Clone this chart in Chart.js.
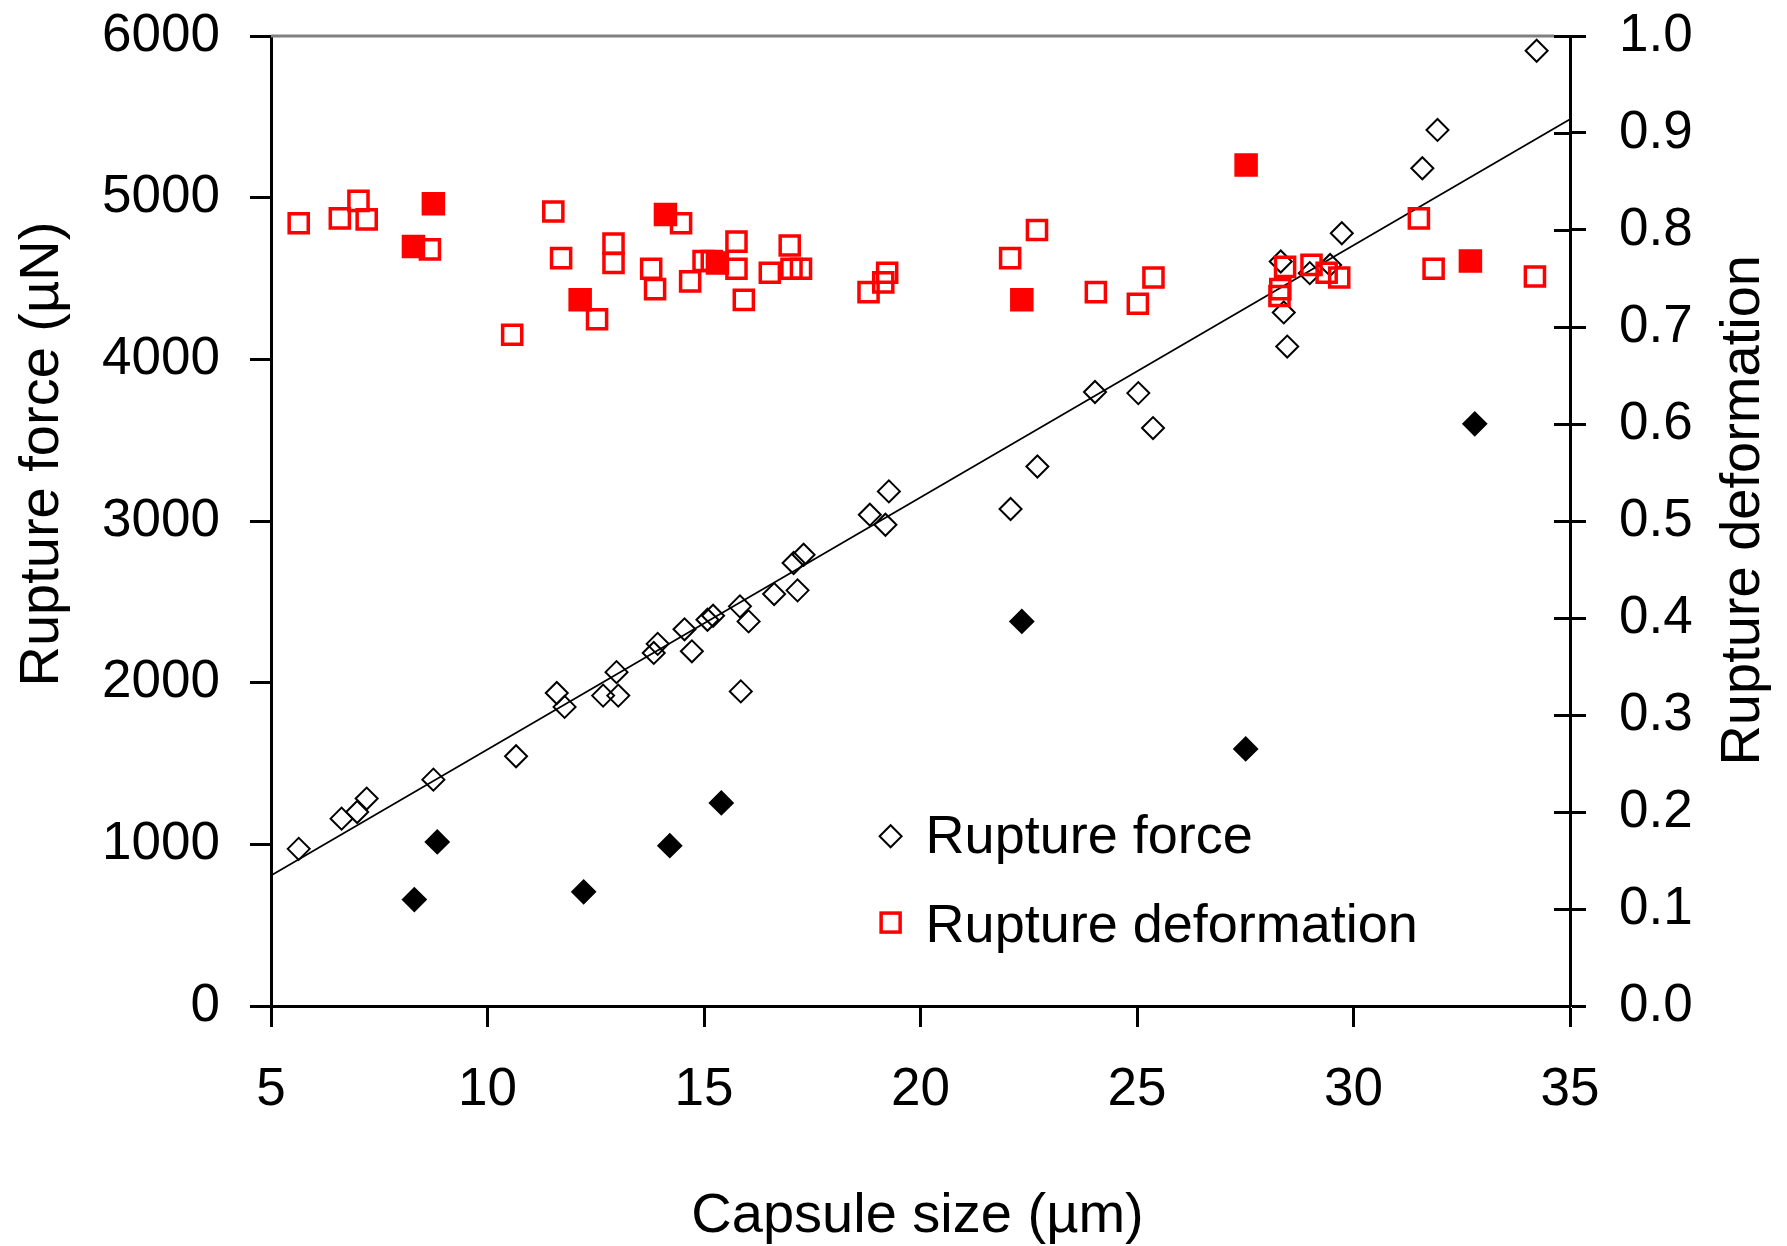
<!DOCTYPE html>
<html>
<head>
<meta charset="utf-8">
<title>Capsule rupture</title>
<script src="https://cdn.jsdelivr.net/npm/chart.js@4.4.1/dist/chart.umd.min.js"></script>
<style>
  html, body { margin: 0; padding: 0; background: #fff; }
  canvas { display: block; }
</style>
</head>
<body>
<canvas id="graph" width="1787" height="1246"></canvas>
<script>
// rupture force (µN) against capsule size (µm), open diamonds
const forceSize = [5.64, 6.63, 6.99, 7.21, 8.75, 10.66, 11.60, 11.78, 12.67, 13.02, 12.98, 13.84, 13.93, 14.55,
  14.72, 15.08, 15.21, 15.83, 16.03, 15.85, 16.62, 17.07, 17.16, 17.30, 18.83, 19.19, 19.27, 22.08, 22.70,
  24.03, 25.03, 25.37, 28.32, 28.39, 28.47, 28.99, 29.46, 29.73, 31.59, 31.94, 34.23];
const forceValue = [972, 1159, 1200, 1283, 1400, 1545, 1936, 1850, 1920, 1920, 2065, 2184, 2240, 2330,
  2194, 2389, 2414, 2472, 2379, 1946, 2548, 2740, 2571, 2791, 3039, 2977, 3183, 3074, 3337,
  3798, 3791, 3575, 4605, 4290, 4079, 4533, 4584, 4780, 5182, 5419, 5909];

// filled diamonds
const forceSize2 = [8.31, 8.84, 12.22, 14.21, 15.40, 22.34, 27.51, 32.80];
const forceValue2 = [658, 1015, 706, 992, 1256, 2379, 1590, 3601];

// rupture deformation, open squares (right axis)
const deformSize = [5.64, 6.59, 7.02, 7.21, 8.67, 10.57, 11.52, 11.70, 12.53, 12.91, 12.91, 13.78, 13.87, 14.47,
  14.68, 14.99, 15.18, 15.75, 15.75, 15.92, 16.52, 16.98, 17.02, 17.24, 18.80, 19.14, 19.23, 22.07, 22.69,
  24.05, 25.02, 25.38, 28.29, 28.31, 28.42, 29.03, 29.38, 29.67, 31.51, 31.85, 34.19];
const deformValue = [0.807, 0.812, 0.830, 0.811, 0.780, 0.692, 0.819, 0.771, 0.708, 0.786, 0.766, 0.760, 0.739, 0.807,
  0.747, 0.768, 0.768, 0.788, 0.760, 0.728, 0.756, 0.784, 0.760, 0.760, 0.736, 0.746, 0.756, 0.771, 0.800,
  0.736, 0.724, 0.751, 0.732, 0.739, 0.762, 0.764, 0.756, 0.751, 0.812, 0.760, 0.752];

// filled squares
const deformSize2 = [8.29, 8.75, 12.14, 14.11, 15.31, 22.34, 27.52, 32.70];
const deformValue2 = [0.783, 0.827, 0.728, 0.816, 0.766, 0.728, 0.867, 0.768];

// linear fit of force vs size
const trendSize = [5, 35];
const trendValue = [807, 5485];

const sizeTicks = [5, 10, 15, 20, 25, 30, 35];
const forceTicks = [0, 1000, 2000, 3000, 4000, 5000, 6000];
const deformTicks = [0, 0.1, 0.2, 0.3, 0.4, 0.5, 0.6, 0.7, 0.8, 0.9, 1.0];

const RED = '#ff0000';
const textFont = "'Liberation Sans', Arial, sans-serif";
const tickFont = { family: textFont, size: 53 };

function pairs(xs, ys) {
  return xs.map((x, i) => ({ x: x, y: ys[i] }));
}

function fixTicks(values) {
  return function (scale) {
    scale.ticks = values.map(v => ({ value: v }));
  };
}

// keep the plot box where it is, no extra room for the end labels
function fixSize(prop, px) {
  return function (scale) {
    scale[prop] = px;
    scale.paddingTop = 0;
    scale.paddingBottom = 0;
    scale.paddingLeft = 0;
    scale.paddingRight = 0;
  };
}

// grey top edge and the inner half of the right-hand ticks
const frame = {
  id: 'frame',
  beforeDatasetsDraw(chart) {
    const { ctx, chartArea: a, scales } = chart;
    ctx.save();
    ctx.strokeStyle = '#808080';
    ctx.lineWidth = 3;
    ctx.beginPath();
    ctx.moveTo(a.left, a.top);
    ctx.lineTo(a.right - 16, a.top);
    ctx.stroke();
    ctx.strokeStyle = '#000';
    ctx.lineWidth = 3;
    scales.y2.ticks.forEach(t => {
      const py = Math.round(scales.y2.getPixelForValue(t.value)) + 0.5;
      ctx.beginPath();
      ctx.moveTo(a.right - 16, py);
      ctx.lineTo(a.right, py);
      ctx.stroke();
    });
    ctx.restore();
  }
};

function diamond(ctx, x, y, r) {
  ctx.beginPath();
  ctx.moveTo(x - r, y);
  ctx.lineTo(x, y - r);
  ctx.lineTo(x + r, y);
  ctx.lineTo(x, y + r);
  ctx.closePath();
}

// axis titles and the legend box inside the plot
const labels = {
  id: 'labels',
  afterDraw(chart) {
    const { ctx, chartArea: a } = chart;
    const w = a.right - a.left, h = a.bottom - a.top;
    ctx.save();
    ctx.fillStyle = '#000';
    ctx.font = '56px ' + textFont;
    ctx.textAlign = 'center';
    ctx.textBaseline = 'alphabetic';

    ctx.fillText('Capsule size (µm)', a.left + w / 2 - 3, 1232);

    ctx.save();
    ctx.translate(58, a.top + h * 0.431);
    ctx.rotate(-Math.PI / 2);
    ctx.fillText('Rupture force (µN)', 0, 0);
    ctx.restore();

    ctx.save();
    ctx.translate(1759, a.top + h * 0.489);
    ctx.rotate(-Math.PI / 2);
    ctx.fillText('Rupture deformation', 0, 0);
    ctx.restore();

    // legend
    const lx = a.left + w * 0.477;
    const row1 = a.top + h * 0.825;
    const row2 = a.top + h * 0.914;
    ctx.font = '54px ' + textFont;
    ctx.textAlign = 'left';
    ctx.strokeStyle = '#000';
    ctx.lineWidth = 2;
    diamond(ctx, lx, row1, 11);
    ctx.stroke();
    ctx.fillText('Rupture force', lx + 35, row1 + 17);
    ctx.strokeStyle = RED;
    ctx.lineWidth = 3.5;
    ctx.strokeRect(lx - 9.5, row2 - 9.5, 19, 19);
    ctx.fillText('Rupture deformation', lx + 35, row2 + 19);
    ctx.restore();
  }
};

const axisGrid = (len) => ({
  drawOnChartArea: false,
  drawTicks: true,
  tickLength: len,
  tickColor: '#000',
  tickWidth: 3
});

new Chart(document.getElementById('graph').getContext('2d'), {
  type: 'scatter',
  data: {
    datasets: [
      {
        label: 'deformation filled',
        data: pairs(deformSize2, deformValue2),
        yAxisID: 'y2',
        pointStyle: 'rect',
        pointRadius: 14.5,
        backgroundColor: RED,
        borderColor: RED,
        borderWidth: 3,
        order: 0
      },
      {
        label: 'Rupture deformation',
        data: pairs(deformSize, deformValue),
        yAxisID: 'y2',
        pointStyle: 'rect',
        pointRadius: 13.5,
        backgroundColor: 'rgba(0,0,0,0)',
        borderColor: RED,
        borderWidth: 3.5,
        order: 1
      },
      {
        label: 'force filled',
        data: pairs(forceSize2, forceValue2),
        yAxisID: 'y',
        pointStyle: 'rectRot',
        pointRadius: 11.5,
        backgroundColor: '#000',
        borderColor: '#000',
        borderWidth: 2,
        order: 2
      },
      {
        label: 'Rupture force',
        data: pairs(forceSize, forceValue),
        yAxisID: 'y',
        pointStyle: 'rectRot',
        pointRadius: 11,
        backgroundColor: 'rgba(0,0,0,0)',
        borderColor: '#000',
        borderWidth: 2,
        order: 3
      },
      {
        label: 'fit',
        data: pairs(trendSize, trendValue),
        yAxisID: 'y',
        showLine: true,
        pointRadius: 0,
        borderColor: '#000',
        borderWidth: 1.8,
        order: 4
      }
    ]
  },
  options: {
    responsive: false,
    animation: false,
    devicePixelRatio: 1,
    events: [],
    layout: { padding: { top: 36, left: 0, right: 0, bottom: 0 } },
    plugins: {
      legend: { display: false },
      tooltip: { enabled: false }
    },
    scales: {
      x: {
        type: 'linear',
        position: 'bottom',
        min: 5,
        max: 35,
        afterBuildTicks: fixTicks(sizeTicks),
        afterFit: fixSize('height', 240),
        grid: axisGrid(21),
        border: { display: true, color: '#000', width: 3 },
        ticks: { color: '#000', font: tickFont, padding: 32, maxRotation: 0, callback: v => String(v) }
      },
      y: {
        type: 'linear',
        position: 'left',
        min: 0,
        max: 6000,
        afterBuildTicks: fixTicks(forceTicks),
        afterFit: fixSize('width', 271),
        grid: axisGrid(21),
        border: { display: true, color: '#000', width: 3 },
        ticks: { color: '#000', font: tickFont, padding: 30, callback: v => String(v) }
      },
      y2: {
        type: 'linear',
        position: 'right',
        min: 0,
        max: 1,
        afterBuildTicks: fixTicks(deformTicks),
        afterFit: fixSize('width', 217),
        grid: axisGrid(16),
        border: { display: true, color: '#000', width: 3 },
        ticks: { color: '#000', font: tickFont, padding: 33, callback: v => v.toFixed(1) }
      }
    }
  },
  plugins: [frame, labels]
});
</script>
</body>
</html>
